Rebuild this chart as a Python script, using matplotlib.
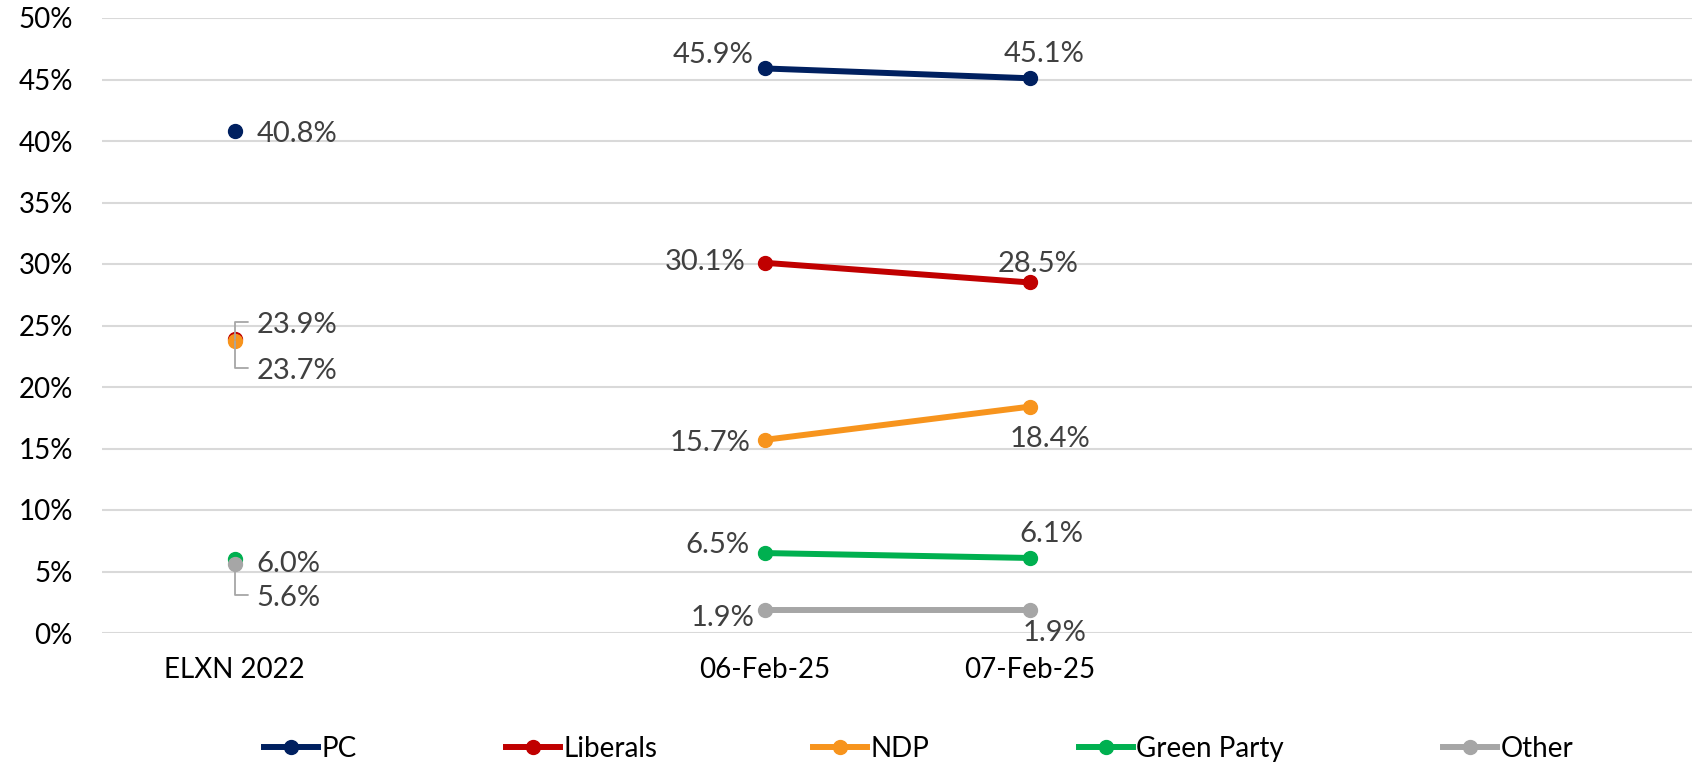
import numpy as np
import matplotlib
matplotlib.use('Agg')
import matplotlib.pyplot as plt
from matplotlib.lines import Line2D

plt.rcParams['font.family'] = ['Lato', 'DejaVu Sans']

# ---- data ----
categories = ['ELXN 2022', '', '06-Feb-25', '07-Feb-25', '', '']
series_names = ['PC', 'Liberals', 'NDP', 'Green Party', 'Other']
pc = [40.8, np.nan, 45.9, 45.1]
liberals = [23.9, np.nan, 30.1, 28.5]
ndp = [23.7, np.nan, 15.7, 18.4]
green = [6.0, np.nan, 6.5, 6.1]
other = [5.6, np.nan, 1.9, 1.9]
y_ticks = [0, 5, 10, 15, 20, 25, 30, 35, 40, 45, 50]
y_tick_labels = [f'{t}%' for t in y_ticks]

series_values = [pc, liberals, ndp, green, other]
colors = ['#002060', '#C00000', '#F7941D', '#00B050', '#A6A6A6']

# label placement (pixel offsets of the digit centre from the marker, alignment, leader line)
label_style = {
    'PC':          [(22, -1, 'left', False), None, (-11, 15, 'right', False), (15, 26, 'center', False)],
    'Liberals':    [(22, 16, 'left', True),  None, (-19, 3, 'right', False),  (9, 20, 'center', False)],
    'NDP':         [(22, -28, 'left', True), None, (-14, -1, 'right', False), (20, -30, 'center', False)],
    'Green Party': [(22, -3, 'left', False), None, (-15, 10, 'right', False), (22, 26, 'center', False)],
    'Other':       [(22, -32, 'left', True), None, (-10, -6, 'right', False), (25, -21, 'center', False)],
}

W, H = 1704, 764
fig = plt.figure(figsize=(W / 100, H / 100), dpi=100)
ax = fig.add_axes([102 / W, 1 - 633 / H, (1692 - 102) / W, (633 - 18) / H])

x = np.arange(len(pc))
for name, vals, col in zip(series_names, series_values, colors):
    ax.plot(x, vals, color=col, lw=4.3, marker='o', markersize=10,
            solid_capstyle='round', zorder=3)

cap_half = 10  # half of digit height in px
for name, vals in zip(series_names, series_values):
    for i, v in enumerate(vals):
        st = label_style[name][i]
        if st is None or np.isnan(v):
            continue
        dx, dy, ha, leader = st
        kw = {}
        if leader:
            kw['arrowprops'] = dict(arrowstyle='-', color='#A6A6A6', lw=1.3,
                                    connectionstyle='angle,angleA=0,angleB=90,rad=0',
                                    relpos=(0, 0.62), shrinkA=4, shrinkB=0)
        ax.annotate(f'{v:.1f}%', xy=(x[i], v), xytext=(dx, dy - cap_half),
                    textcoords='offset pixels', ha=ha, va='baseline',
                    fontsize=21, color='#404040', zorder=5, **kw)

ax.set_xlim(-0.5, len(categories) - 0.5)
ax.set_ylim(0, 50)
ax.set_xticks(np.arange(len(categories)))
ax.set_xticklabels(categories, fontsize=20, color='black')
ax.set_yticks(y_ticks)
ax.set_yticklabels(y_tick_labels, fontsize=20, color='black')
ax.tick_params(axis='x', length=0, pad=17)
ax.tick_params(axis='y', length=0, pad=21)
ax.grid(axis='y', color='#D9D9D9', lw=1.5)
ax.set_axisbelow(True)
for s in ax.spines.values():
    s.set_visible(False)

# legend entries
legend_x = [264, 506, 813, 1079, 1443]
for name, col, lx in zip(series_names, colors, legend_x):
    h = Line2D([], [], color=col, lw=4.3, marker='o', markersize=10)
    fig.legend([h], [name], loc='center left', bbox_to_anchor=(lx / W, 1 - 749 / H),
               frameon=False, fontsize=20, handlelength=1.95, handletextpad=0.12,
               borderpad=0, borderaxespad=0)

fig.savefig('out.png', dpi=100)
